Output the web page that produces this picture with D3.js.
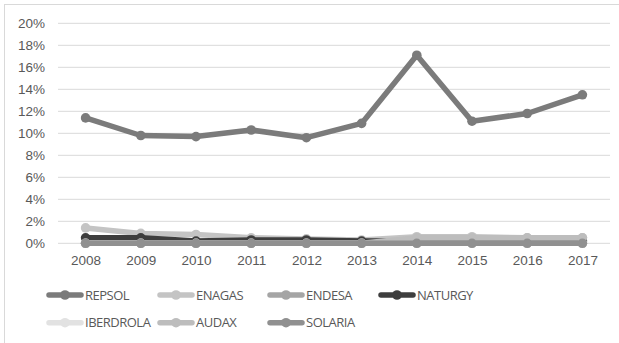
<!DOCTYPE html>
<html>
<head>
<meta charset="utf-8">
<script src="https://cdn.jsdelivr.net/npm/d3@7"></script>
<style>
  body { margin: 0; background: #fff; }
  svg { display: block; font-family: "Open Sans", sans-serif; }
</style>
</head>
<body>
<svg id="chart" width="619" height="343"></svg>
<script>
// data (percent)
const years = ['2008','2009','2010','2011','2012','2013','2014','2015','2016','2017'];
const yTicks = [0, 2, 4, 6, 8, 10, 12, 14, 16, 18, 20];

const repsol    = [11.4, 9.8, 9.7, 10.3, 9.6, 10.9, 17.1, 11.1, 11.8, 13.5];
const enagas    = [1.4, 0.9, 0.8, 0.5, 0.4, 0.3, 0.6, 0.6, 0.5, 0.5];
const endesa    = [0, 0, 0, 0, 0, 0, 0, 0, 0, 0];
const naturgy   = [0.5, 0.5, 0.2, 0.3, 0.3, 0.2, 0.2, 0.2, 0.2, 0.2];
const iberdrola = [0, 0, 0, 0, 0, 0, 0, 0, 0, 0];
const audax     = [0, 0, 0, 0, 0, 0, 0.5, 0.5, 0.5, 0.5];
const solaria   = [0, 0, 0, 0, 0, 0, 0, 0, 0, 0];

const series = [
  { name: 'REPSOL', values: repsol, color: '#7b7b7b' },
  { name: 'ENAGAS', values: enagas, color: '#c4c4c4' },
  { name: 'ENDESA', values: endesa, color: '#a5a5a5' },
  { name: 'NATURGY', values: naturgy, color: '#3e3e3e' },
  { name: 'IBERDROLA', values: iberdrola, color: '#e2e2e2' },
  { name: 'AUDAX', values: audax, color: '#bdbdbd' },
  { name: 'SOLARIA', values: solaria, color: '#909090' }
];

const svg = d3.select('#chart');
const margin = { top: 23.3, left: 58, right: 9, bottom: 99.7 };
const width = 619, height = 343;
const innerW = width - margin.left - margin.right;
const innerH = height - margin.top - margin.bottom;

// chart frame (cropped at right/bottom)
svg.append('rect')
  .attr('x', 4.5).attr('y', 4.5)
  .attr('width', 640).attr('height', 360)
  .attr('fill', 'none').attr('stroke', '#d9d9d9');

const x = d3.scalePoint().domain(years).range([0, innerW]).padding(0.5);
const y = d3.scaleLinear().domain([0, 20]).range([innerH, 0]);

const g = svg.append('g').attr('transform', `translate(${margin.left},${margin.top})`);

// gridlines
g.append('g').selectAll('line').data(yTicks).join('line')
  .attr('x1', 0).attr('x2', innerW)
  .attr('y1', d => y(d)).attr('y2', d => y(d))
  .attr('stroke', '#d9d9d9').attr('stroke-width', 1);

// y axis labels
const yAxis = d3.axisLeft(y).tickValues(yTicks).tickSize(0).tickPadding(13)
  .tickFormat(d => d + '%');
g.append('g').call(yAxis)
  .call(a => a.select('.domain').remove())
  .selectAll('text').attr('fill', '#595959').style('font-size', '13.5px');

// x axis labels
const xAxis = d3.axisBottom(x).tickSize(0).tickPadding(12);
g.append('g').attr('transform', `translate(0,${innerH})`).call(xAxis)
  .call(a => a.select('.domain').remove())
  .selectAll('text').attr('fill', '#595959').style('font-size', '13.5px');

const line = d3.line().x((d, i) => x(years[i])).y(d => y(d));

series.forEach(s => {
  const sg = g.append('g');
  sg.append('path').datum(s.values)
    .attr('d', line).attr('fill', 'none')
    .attr('stroke', s.color).attr('stroke-width', 5.5)
    .attr('stroke-linejoin', 'round');
  sg.selectAll('circle').data(s.values).join('circle')
    .attr('cx', (d, i) => x(years[i])).attr('cy', d => y(d))
    .attr('r', 4.8).attr('fill', s.color);
});

// legend
const legendCols = [49, 160, 270, 381];
const legendRows = [295, 322.7];
const lg = svg.append('g');
series.forEach((s, i) => {
  const lx = legendCols[i % 4], ly = legendRows[Math.floor(i / 4)];
  const it = lg.append('g').attr('transform', `translate(${lx},${ly})`);
  it.append('line').attr('x1', 0).attr('x2', 32).attr('y1', 0).attr('y2', 0)
    .attr('stroke', s.color).attr('stroke-width', 5.5).attr('stroke-linecap', 'round');
  it.append('circle').attr('cx', 16).attr('cy', 0).attr('r', 4.8).attr('fill', s.color);
  it.append('text').attr('x', 36).attr('y', 0).attr('dy', '0.35em')
    .attr('fill', '#595959').style('font-size', '13px')
    .style('letter-spacing', '-0.5px').text(s.name);
});
</script>
</body>
</html>
